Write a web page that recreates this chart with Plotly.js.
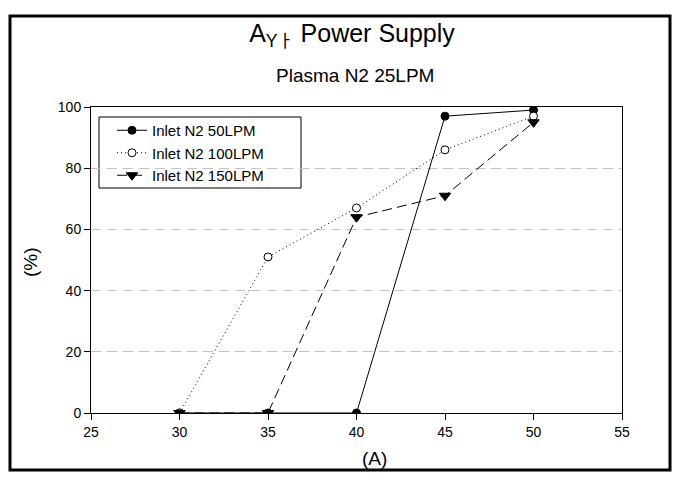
<!DOCTYPE html>
<html>
<head>
<meta charset="utf-8">
<script src="https://cdn.plot.ly/plotly-3.0.1.min.js"></script>
<style>html,body{margin:0;padding:0;background:#fff;}#chart{width:687px;height:486px;}</style>
</head>
<body>
<div id="chart"></div>
<script>
// Data
const currentA = [30, 35, 40, 45, 50];
const seriesNames = ['Inlet N2 50LPM', 'Inlet N2 100LPM', 'Inlet N2 150LPM'];
const inlet50 = [0, 0, 0, 97, 99];
const inlet100 = [0, 51, 67, 86, 97];
const inlet150 = [0, 0, 64, 71, 95];
const xTicks = [25, 30, 35, 40, 45, 50, 55];
const yTicks = [0, 20, 40, 60, 80, 100];

const FONT = 'Liberation Sans, Arial, Noto Sans CJK KR, sans-serif';

const traces = [
  {
    x: currentA, y: inlet50, name: seriesNames[0], type: 'scatter', mode: 'lines+markers',
    line: {color: '#000', width: 1},
    marker: {symbol: 'circle', size: 8, color: '#000', line: {color: '#000', width: 1}}
  },
  {
    x: currentA, y: inlet100, name: seriesNames[1], type: 'scatter', mode: 'lines+markers',
    line: {color: '#000', width: 1, dash: '1px,3px'},
    marker: {symbol: 'circle', size: 8, color: '#fff', line: {color: '#000', width: 1}}
  },
  {
    x: currentA, y: inlet150, name: seriesNames[2], type: 'scatter', mode: 'lines+markers',
    line: {color: '#000', width: 1, dash: '10px,5px'},
    marker: {symbol: 'triangle-down', size: 10, color: '#000', line: {color: '#000', width: 1}}
  }
];

// helpers to convert pixel positions to paper coords (plot area 91..622 x 107..413)
const L = 91, R = 622, T = 107, B = 413;
const px = v => (v - L) / (R - L);
const py = v => (B - v) / (B - T);

const layout = {
  width: 687, height: 486,
  margin: {l: L, r: 687 - R, t: T, b: 486 - B},
  paper_bgcolor: '#fff', plot_bgcolor: '#fff',
  font: {family: FONT, color: '#000', size: 13},
  showlegend: true,
  title: {
    text: 'A<sub>Yㅏ</sub> Power Supply',
    font: {family: FONT, size: 25, color: '#000'},
    xref: 'container', yref: 'container',
    x: 352 / 687, xanchor: 'center',
    y: 1 - 33 / 486, yanchor: 'middle'
  },
  xaxis: {
    range: [25, 55], tickvals: xTicks, ticktext: xTicks.map(String),
    showline: true, linecolor: '#000', linewidth: 1, mirror: true,
    ticks: 'outside', ticklen: 6, tickcolor: '#000', tickwidth: 1,
    showgrid: false, zeroline: false,
    tickfont: {family: FONT, size: 14, color: '#000'}
  },
  yaxis: {
    range: [0, 100], tickvals: yTicks, ticktext: yTicks.map(String),
    showline: true, linecolor: '#000', linewidth: 1, mirror: true,
    ticks: 'outside', ticklen: 6, tickcolor: '#000', tickwidth: 1,
    showgrid: true, gridcolor: '#c4c4c4', gridwidth: 1, griddash: '10px,6px',
    zeroline: false,
    tickfont: {family: FONT, size: 14, color: '#000'}
  },
  legend: {
    x: px(112), y: py(114), xanchor: 'left', yanchor: 'top',
    bgcolor: 'rgba(0,0,0,0)', borderwidth: 0,
    font: {family: FONT, size: 15, color: '#000'},
    tracegroupgap: 0, itemwidth: 30
  },
  annotations: [
    {text: 'Plasma N2 25LPM', xref: 'paper', yref: 'paper', x: px(355), y: py(76),
     xanchor: 'center', yanchor: 'middle', showarrow: false,
     font: {family: FONT, size: 19, color: '#000'}},
    {text: '(A)', xref: 'paper', yref: 'paper', x: px(374), y: py(458),
     xanchor: 'center', yanchor: 'middle', showarrow: false,
     font: {family: FONT, size: 19, color: '#000'}},
    {text: '(%)', xref: 'paper', yref: 'paper', x: px(30), y: py(262),
     xanchor: 'center', yanchor: 'middle', showarrow: false, textangle: -90,
     font: {family: FONT, size: 19, color: '#000'}}
  ],
  shapes: [
    // outer frame
    {type: 'rect', xref: 'paper', yref: 'paper', x0: px(10), x1: px(670), y0: py(470), y1: py(16),
     line: {color: '#000', width: 3}, fillcolor: 'rgba(0,0,0,0)', layer: 'above'},
    // legend box
    {type: 'rect', xref: 'paper', yref: 'paper', x0: px(99), x1: px(301), y0: py(188), y1: py(117),
     line: {color: '#000', width: 1}, fillcolor: '#fff', layer: 'below'}
  ]
};

Plotly.newPlot('chart', traces, layout, {displayModeBar: false, staticPlot: true});
</script>
</body>
</html>
